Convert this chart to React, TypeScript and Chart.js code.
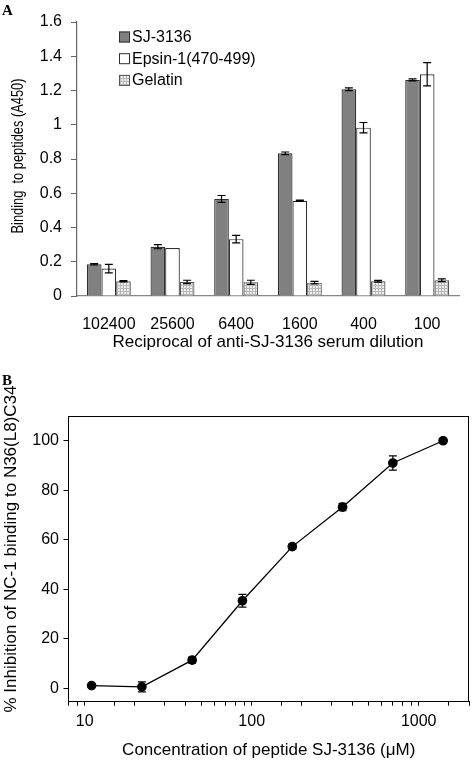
import React, { useEffect, useRef } from "react";
import { Chart, registerables } from "chart.js";

Chart.register(...registerables);

// ---------- Data: panel A ----------
const dilutions = ["102400", "25600", "6400", "1600", "400", "100"];
const seriesNames = ["SJ-3136", "Epsin-1(470-499)", "Gelatin"];
const sjValues = [0.185, 0.288, 0.567, 0.833, 1.207, 1.262];
const sjErrors = [0.004, 0.012, 0.02, 0.008, 0.008, 0.006];
const epsinValues = [0.16, 0.28, 0.332, 0.556, 0.983, 1.295];
const epsinErrors = [0.025, 0, 0.022, 0.004, 0.03, 0.068];
const gelatinValues = [0.086, 0.082, 0.08, 0.078, 0.086, 0.092];
const gelatinErrors = [0.004, 0.01, 0.012, 0.007, 0.005, 0.008];
const yTitleA = "Binding  to peptides (A450)";
const xTitleA = "Reciprocal of anti-SJ-3136 serum dilution";

// ---------- Data: panel B ----------
const concentrations = [11, 22, 44, 88, 175, 350, 700, 1400];
const inhibition = [1, 0.5, 11.3, 35.3, 57.2, 73.2, 91, 100];
const inhibitionErrors = [0, 2, 1.2, 2.6, 1, 1.5, 2.9, 0];
const xTickLabelsB = [10, 100, 1000];
const yTicksB = [0, 20, 40, 60, 80, 100];
const yTitleB = "% Inhibition of NC-1 binding to N36(L8)C34";
const xTitleB = "Concentration of peptide SJ-3136 (μM)";

const FONT = "'Liberation Sans', Arial, Helvetica, sans-serif";
Chart.defaults.font.family = FONT;
Chart.defaults.font.size = 16;
Chart.defaults.color = "#000";

const errorBarPlugin = {
  id: "errorBars",
  afterDatasetsDraw(chart: any) {
    const ctx = chart.ctx;
    const yScale = chart.scales.y;
    chart.data.datasets.forEach((ds: any, i: number) => {
      const errs: number[] | undefined = ds.errorBars;
      if (!errs) return;
      const meta = chart.getDatasetMeta(i);
      meta.data.forEach((el: any, j: number) => {
        const raw = ds.data[j];
        const v = typeof raw === "number" ? raw : raw.y;
        const e = errs[j];
        if (!e) return;
        const x = el.x;
        const yT = yScale.getPixelForValue(v + e);
        const yB = yScale.getPixelForValue(v - e);
        const cap = 4;
        ctx.save();
        ctx.strokeStyle = "#000";
        ctx.lineWidth = 1.2;
        ctx.beginPath();
        ctx.moveTo(x, yT);
        ctx.lineTo(x, yB);
        ctx.moveTo(x - cap, yT);
        ctx.lineTo(x + cap, yT);
        ctx.moveTo(x - cap, yB);
        ctx.lineTo(x + cap, yB);
        ctx.stroke();
        ctx.restore();
      });
    });
  },
};

const insideLegendPlugin = {
  id: "insideLegend",
  afterDraw(chart: any) {
    const ctx = chart.ctx;
    const { left, top } = chart.chartArea;
    ctx.save();
    chart.data.datasets.forEach((ds: any, i: number) => {
      const x = left + 42;
      const y = top + 15 + i * 21.7;
      ctx.fillStyle = ds.backgroundColor;
      ctx.fillRect(x, y - 5.5, 11, 11);
      ctx.strokeStyle = ds.borderColor;
      ctx.lineWidth = 1;
      ctx.strokeRect(x + 0.5, y - 5, 10, 10);
      ctx.fillStyle = "#000";
      ctx.font = `16px ${FONT}`;
      ctx.textBaseline = "middle";
      ctx.textAlign = "left";
      ctx.fillText(ds.label, x + 13, y + 0.5);
    });
    ctx.restore();
  },
};

function makeYTitlePlugin(text: string, cx: number, cy: number, size: number, maxLen: number) {
  return {
    id: "yTitle",
    afterDraw(chart: any) {
      const ctx = chart.ctx;
      ctx.save();
      ctx.translate(cx, cy);
      ctx.rotate(-Math.PI / 2);
      ctx.font = `${size}px ${FONT}`;
      ctx.fillStyle = "#000";
      ctx.textAlign = "center";
      ctx.textBaseline = "middle";
      ctx.fillText(text, 0, 0, maxLen);
      ctx.restore();
    },
  };
}

const boxPlugin = {
  id: "plotBox",
  afterDraw(chart: any) {
    const { left, right, top, bottom } = chart.chartArea;
    const ctx = chart.ctx;
    ctx.save();
    ctx.strokeStyle = "#000";
    ctx.lineWidth = 1;
    ctx.beginPath();
    ctx.moveTo(left, top + 0.5);
    ctx.lineTo(right, top + 0.5);
    ctx.moveTo(right - 0.5, top);
    ctx.lineTo(right - 0.5, bottom);
    ctx.stroke();
    ctx.restore();
  },
};

function makeHatch(): CanvasPattern | string {
  const c = document.createElement("canvas");
  c.width = 3;
  c.height = 3;
  const g = c.getContext("2d");
  if (!g) return "#ddd";
  g.fillStyle = "#ececec";
  g.fillRect(0, 0, 3, 3);
  g.fillStyle = "#b8b8b8";
  g.fillRect(0, 0, 3, 1);
  g.fillRect(0, 0, 1, 3);
  const p = g.createPattern(c, "repeat");
  return p || "#ddd";
}

function PanelA() {
  const ref = useRef<HTMLCanvasElement>(null);
  useEffect(() => {
    if (!ref.current) return;
    const hatch = makeHatch();
    const chart = new Chart(ref.current, {
      type: "bar",
      data: {
        labels: dilutions,
        datasets: [
          {
            label: seriesNames[0],
            data: sjValues,
            errorBars: sjErrors,
            backgroundColor: "#808080",
            borderColor: "#303030",
            borderWidth: 1.2,
          } as any,
          {
            label: seriesNames[1],
            data: epsinValues,
            errorBars: epsinErrors,
            backgroundColor: "#ffffff",
            borderColor: "#303030",
            borderWidth: 1.2,
          } as any,
          {
            label: seriesNames[2],
            data: gelatinValues,
            errorBars: gelatinErrors,
            backgroundColor: hatch,
            borderColor: "#555555",
            borderWidth: 1.2,
          } as any,
        ],
      },
      options: {
        animation: false,
        responsive: false,
        layout: { padding: { left: 8, top: 22, right: 16, bottom: 17.5 } },
        datasets: { bar: { categoryPercentage: 0.69, barPercentage: 1 } },
        plugins: { legend: { display: false }, tooltip: { enabled: false } },
        scales: {
          x: {
            grid: { display: false, drawTicks: false },
            border: { color: "#888", width: 1.2 },
            ticks: { padding: 18.5, color: "#000", font: { size: 16 } },
            title: {
              display: true,
              text: xTitleA,
              padding: 0,
              color: "#000",
              font: { size: 17 },
            },
            afterFit: (s: any) => {
              s.height = 56.5;
            },
          },
          y: {
            min: 0,
            max: 1.6,
            ticks: {
              stepSize: 0.2,
              padding: 9,
              color: "#000",
              font: { size: 16 },
              callback: (v: any) => String(Math.round(Number(v) * 10) / 10),
            },
            grid: { drawOnChartArea: false, tickLength: 6, color: "#666" },
            border: { color: "#666", width: 1.2 },
            title: { display: false },
            afterFit: (s: any) => {
              s.width = 69;
            },
          },
        },
      } as any,
      plugins: [errorBarPlugin, insideLegendPlugin, makeYTitlePlugin(yTitleA, 18, 156, 17, 155)],
    });
    return () => chart.destroy();
  }, []);
  return (
    <canvas
      ref={ref}
      width={475}
      height={370}
      style={{ position: "absolute", left: 0, top: 0, width: 475, height: 370 }}
    />
  );
}

function PanelB() {
  const ref = useRef<HTMLCanvasElement>(null);
  useEffect(() => {
    if (!ref.current) return;
    const chart = new Chart(ref.current, {
      type: "line",
      data: {
        datasets: [
          {
            label: "Inhibition",
            data: concentrations.map((c, i) => ({ x: c, y: inhibition[i] })),
            errorBars: inhibitionErrors,
            borderColor: "#000",
            backgroundColor: "#000",
            borderWidth: 1.3,
            pointRadius: 4.2,
            pointBackgroundColor: "#000",
            pointBorderColor: "#000",
            tension: 0,
          } as any,
        ],
      },
      options: {
        animation: false,
        responsive: false,
        layout: { padding: { left: 0, top: 36, right: 1, bottom: 0 } },
        plugins: { legend: { display: false }, tooltip: { enabled: false } },
        scales: {
          x: {
            type: "logarithmic",
            min: 8,
            max: 2000,
            grid: { drawOnChartArea: false, tickLength: 4, color: "#000" },
            border: { color: "#000", width: 1 },
            ticks: {
              autoSkip: false,
              maxRotation: 0,
              padding: 6,
              color: "#000",
              font: { size: 16 },
              callback: (v: any) => (xTickLabelsB.includes(Number(v)) ? String(v) : ""),
            },
            title: {
              display: true,
              text: xTitleB,
              padding: 0,
              color: "#000",
              font: { size: 17 },
            },
            afterFit: (s: any) => {
              s.height = 59.3;
            },
          },
          y: {
            min: -5.5,
            max: 110,
            afterBuildTicks: (s: any) => {
              s.ticks = yTicksB.map((v) => ({ value: v }));
            },
            grid: { drawOnChartArea: false, tickLength: 5, color: "#000" },
            border: { color: "#000", width: 1 },
            ticks: { padding: 4.5, color: "#000", font: { size: 16 } },
            title: { display: false },
            afterFit: (s: any) => {
              s.width = 68.5;
            },
          },
        },
      } as any,
      plugins: [errorBarPlugin, boxPlugin, makeYTitlePlugin(yTitleB, 11, 169, 17, 330)],
    });
    return () => chart.destroy();
  }, []);
  return (
    <canvas
      ref={ref}
      width={475}
      height={381}
      style={{ position: "absolute", left: 0, top: 380, width: 475, height: 381 }}
    />
  );
}

const panelLabel: React.CSSProperties = {
  position: "absolute",
  left: 2,
  fontFamily: "'Liberation Serif', 'Times New Roman', serif",
  fontWeight: "bold",
  fontSize: 15,
  lineHeight: "15px",
  color: "#000",
};

export default function App() {
  return (
    <div
      style={{
        position: "absolute",
        left: 0,
        top: 0,
        width: 475,
        height: 761,
        background: "#fff",
        overflow: "hidden",
      }}
    >
      <PanelA />
      <PanelB />
      <div style={{ ...panelLabel, top: 2.5 }}>A</div>
      <div style={{ ...panelLabel, top: 372.5 }}>B</div>
    </div>
  );
}
